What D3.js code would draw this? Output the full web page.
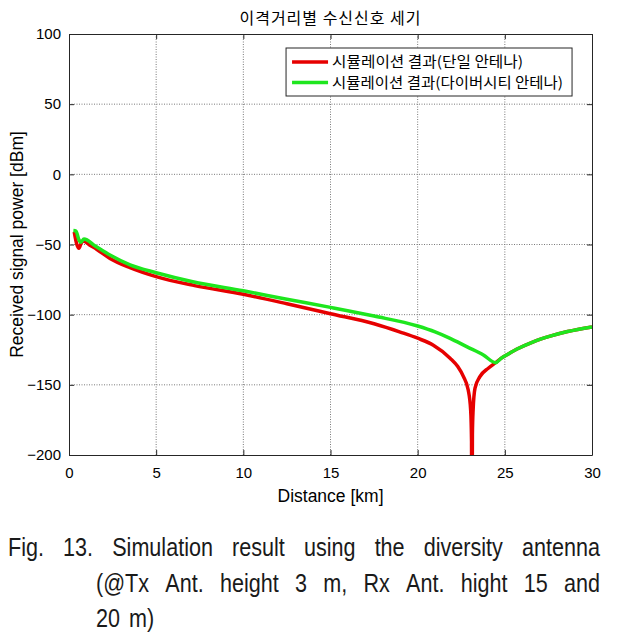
<!DOCTYPE html>
<html>
<head>
<meta charset="utf-8">
<script src="https://cdn.jsdelivr.net/npm/d3@7"></script>
<style>
  body { margin: 0; background: #fff; }
  svg { display: block; }
</style>
</head>
<body>
<script>
// distance [km] / received power [dBm]
const singleX = [0.3, 0.45, 0.57, 0.7, 0.82, 1.2, 1.6, 2.35, 3.5, 5, 7.2, 10, 12.5, 15, 17.5, 19, 20, 20.9, 21.86, 22.3, 22.62, 22.9, 23.04, 23.09, 23.1,
                 23.12, 23.14, 23.18, 23.29, 23.57, 24.05, 24.47, 24.8, 25.2, 25.7, 26.6, 27.6, 28.6, 30];
const singleY = [-41, -50, -52.7, -49, -47.5, -50.5, -53.5, -59.9, -66.5, -72.9, -79.3, -85.5, -92.2, -99.3, -106.5, -112.4, -116.8, -121.8, -131, -137, -144, -153.7, -168, -190, -260,
                 -260, -185, -168, -152.3, -144.2, -138.2, -134.2, -131, -128, -124.5, -119.5, -115.3, -112, -108.7];

const diversityX = [0.25, 0.4, 0.55, 0.67, 0.86, 1.5, 2.35, 3.5, 5, 7.1, 10, 12.5, 15, 17.5, 20, 21, 21.86, 22.81, 23.77, 24.47, 24.8, 25.2, 25.7, 26.6, 27.6, 28.6, 30];
const diversityY = [-40, -40.4, -46, -48.4, -46.1, -51, -57.5, -64.5, -70.1, -76.5, -83, -89, -94.8, -101, -108.1, -112.3, -116.9, -122.8, -128.7, -134.2, -131, -128, -124.5, -119.5, -115.3, -112, -108.7];

const xTicks = [0, 5, 10, 15, 20, 25, 30];
const yTicks = [100, 50, 0, -50, -100, -150, -200];

const seriesNames = ["시뮬레이션 결과(단일 안테나)", "시뮬레이션 결과(다이버시티 안테나)"];
const seriesColors = ["#e60000", "#1ee61e"];

const title = "이격거리별 수신신호 세기";
const xLabel = "Distance [km]";
const yLabel = "Received signal power [dBm]";
const caption = [
  "Fig. 13. Simulation result using the diversity antenna",
  "(@Tx Ant. height 3 m, Rx Ant. hight 15 and",
  "20 m)"
];

drawChart();

function drawChart() {
  const W = 618, H = 634;
  const margin = {top: 34, right: 26, bottom: 179, left: 69};
  const width = W - margin.left - margin.right;
  const height = H - margin.top - margin.bottom;

  const svg = d3.select("body").append("svg")
    .attr("width", W)
    .attr("height", H);

  const x = d3.scaleLinear().domain([0, 30]).range([0, width]);
  const y = d3.scaleLinear().domain([-200, 100]).range([height, 0]);

  const g = svg.append("g")
    .attr("transform", `translate(${margin.left},${margin.top})`);

  svg.append("defs").append("clipPath").attr("id", "plot")
    .append("rect").attr("width", width).attr("height", height);

  // grid
  g.selectAll(".gx").data(xTicks.slice(1, -1)).enter().append("line")
    .attr("x1", d => x(d)).attr("x2", d => x(d))
    .attr("y1", 0).attr("y2", height)
    .attr("stroke", "#7a7a7a").attr("stroke-dasharray", "1,1.5");
  g.selectAll(".gy").data(yTicks.slice(1, -1)).enter().append("line")
    .attr("y1", d => y(d)).attr("y2", d => y(d))
    .attr("x1", 0).attr("x2", width)
    .attr("stroke", "#7a7a7a").attr("stroke-dasharray", "1,1.5");

  // axes, ticks pointing inward on all four sides
  const tickFont = "'Liberation Sans', Arial, sans-serif";
  const axB = g.append("g").attr("transform", `translate(0,${height})`)
    .call(d3.axisBottom(x).tickValues(xTicks).tickSizeInner(-5).tickSizeOuter(0).tickPadding(12));
  const axT = g.append("g")
    .call(d3.axisTop(x).tickValues(xTicks).tickSizeInner(-5).tickSizeOuter(0).tickFormat(""));
  const axL = g.append("g")
    .call(d3.axisLeft(y).tickValues(yTicks).tickSizeInner(-5).tickSizeOuter(0).tickPadding(8));
  const axR = g.append("g").attr("transform", `translate(${width},0)`)
    .call(d3.axisRight(y).tickValues(yTicks).tickSizeInner(-5).tickSizeOuter(0).tickFormat(""));

  [axB, axT, axL, axR].forEach(a => {
    a.select(".domain").attr("stroke", "#262626");
    a.selectAll(".tick line").attr("stroke", "#262626");
    a.selectAll("text").attr("fill", "#000").style("font-family", tickFont).style("font-size", "15px");
  });

  // curves
  const line = d3.line()
    .x(d => x(d[0]))
    .y(d => y(d[1]))
    .curve(d3.curveMonotoneX);

  const series = [d3.zip(singleX, singleY), d3.zip(diversityX, diversityY)];

  g.append("g").attr("clip-path", "url(#plot)")
    .selectAll("path").data(series).enter().append("path")
    .attr("d", line)
    .attr("fill", "none")
    .attr("stroke", (d, i) => seriesColors[i])
    .attr("stroke-width", 3.5)
    .attr("stroke-linejoin", "round");

  // legend
  const legendWidths = [191, 231];
  const lg = g.append("g").attr("transform", `translate(${x(12.45)},14)`);
  lg.append("rect")
    .attr("width", 286).attr("height", 48)
    .attr("fill", "#fff").attr("stroke", "#262626");
  seriesNames.forEach((name, i) => {
    const yy = 14 + i * 20.5;
    lg.append("line")
      .attr("x1", 6).attr("x2", 42).attr("y1", yy).attr("y2", yy)
      .attr("stroke", seriesColors[i]).attr("stroke-width", 3.5);
    lg.append("text")
      .attr("x", 46).attr("y", yy + 5)
      .attr("textLength", legendWidths[i]).attr("lengthAdjust", "spacingAndGlyphs")
      .style("font-family", "'Noto Sans CJK KR', sans-serif")
      .style("font-size", "14.5px")
      .text(name);
  });

  // title and axis labels
  svg.append("text")
    .attr("x", margin.left + width / 2).attr("y", 24)
    .attr("text-anchor", "middle")
    .style("font-family", "'Noto Sans CJK KR', sans-serif")
    .style("font-size", "16px")
    .style("letter-spacing", "1px")
    .text(title);

  svg.append("text")
    .attr("x", margin.left + width / 2).attr("y", 502)
    .attr("text-anchor", "middle")
    .style("font-family", tickFont).style("font-size", "17.5px")
    .text(xLabel);

  svg.append("text")
    .attr("transform", `translate(23,${margin.top + height / 2}) rotate(-90)`)
    .attr("text-anchor", "middle")
    .style("font-family", tickFont).style("font-size", "17.5px")
    .text(yLabel);

  // justified caption, condensed word by word
  const capFont = "'Liberation Sans', Arial, sans-serif";
  const lines = [
    {words: caption[0].split(" "), x0: 8, x1: 600, y: 556, justify: true},
    {words: caption[1].split(" "), x0: 96, x1: 600, y: 592, justify: true},
    {words: caption[2].split(" "), x0: 96, x1: 600, y: 627, justify: false}
  ];
  const squeeze = 0.83;
  const cap = svg.append("g").attr("fill", "#1a1a1a")
    .style("font-family", capFont).style("font-size", "26px");
  lines.forEach(l => {
    const ts = l.words.map(w => cap.append("text").attr("y", l.y).text(w));
    const ws = ts.map(t => t.node().getComputedTextLength() * squeeze);
    const total = d3.sum(ws);
    const gap = l.justify ? (l.x1 - l.x0 - total) / (ws.length - 1) : 9;
    let cx = l.x0;
    ts.forEach((t, i) => {
      t.attr("x", cx).attr("textLength", ws[i]).attr("lengthAdjust", "spacingAndGlyphs");
      cx += ws[i] + gap;
    });
  });
}
</script>
</body>
</html>
